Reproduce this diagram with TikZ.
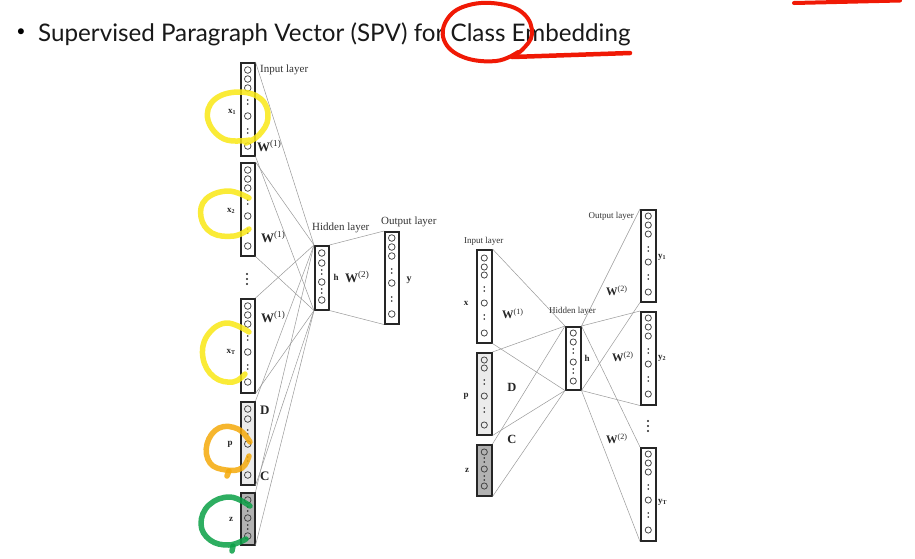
\documentclass[tikz,border=0pt]{standalone}
\usepackage{fontspec}
\setmainfont{Liberation Serif}
\newfontfamily\titlefont{Lato}
\definecolor{hlyellow}{RGB}{250,232,20}
\definecolor{hlorange}{RGB}{245,170,10}
\definecolor{hlgreen}{RGB}{10,160,70}
\definecolor{hlred}{RGB}{240,25,5}
\tikzset{
  col/.style={draw=black!85, line width=1.5pt, minimum width=14pt, inner sep=0pt, anchor=north west, fill=white},
  colR/.style={col, minimum width=15pt},
  neu/.style={draw=black!75, line width=0.75pt},
  wire/.style={draw=black!40, line width=0.5pt},
  lblL/.style={inner sep=0pt, font=\fontsize{11}{13}\selectfont, text=black!80},
  lblR/.style={inner sep=0pt, font=\fontsize{9}{11}\selectfont, text=black!80},
  varL/.style={inner sep=0pt, font=\fontsize{9}{11}\selectfont\bfseries, text=black!85},
  wL/.style={inner sep=0pt, font=\fontsize{13}{15}\selectfont, text=black!85, anchor=west},
  wR/.style={inner sep=0pt, font=\fontsize{11.5}{13}\selectfont, text=black!85, anchor=west},
  hl/.style={line width=5.5pt, line cap=round, line join=round, opacity=0.85},
}
\newcommand\colfill[4]{%
  \foreach \c in {#2} \draw[neu] ([yshift={-\c*1pt}]#1.north) circle (#4);
  \foreach \d in {#3} \fill[black!85] ([yshift={(2-\d)*1pt}]#1.north) circle (0.95pt) ([yshift={(-2-\d)*1pt}]#1.north) circle (0.95pt);
}
\begin{document}
\begin{tikzpicture}[x=1pt,y=-1pt]
\useasboundingbox (0,0) rectangle (915,558);
\fill[white] (0,0) rectangle (915,558);

% title
\node[inner sep=0pt, font=\titlefont\fontsize{16}{18}\selectfont] (bullet) at (21,33) {•};
\node[anchor=base west, inner sep=0pt, font=\titlefont\fontsize{24.2}{29}\selectfont, text=black!90] (title) at (38,41) {Supervised Paragraph Vector (SPV) for Class Embedding};

% ---------- left network ----------
\node[col, minimum height=93pt] (x1) at (240,62) {};
\node[col, minimum height=93pt] (x2) at (240,162) {};
\node[col, minimum height=94pt] (xT) at (240,298) {};
\node[col, fill=black!8, minimum height=83pt] (D) at (240,401) {};
\node[col, fill=black!30, minimum height=52pt] (zL) at (240,492) {};
\node[col, minimum height=64pt] (hL) at (314,245) {};
\node[col, minimum height=92pt] (yL) at (384,231) {};

\foreach \n in {x1,x2,xT,D,zL}{
  \draw[wire] (\n.north east) -- (hL.north west);
  \draw[wire] (\n.south east) -- (hL.south west);
}
\draw[wire] (hL.north east) -- (yL.north west);
\draw[wire] (hL.south east) -- (yL.south west);

\colfill{x1}{8,17,26,54,84}{40,69}{3.3pt}
\colfill{x2}{8,17,26,54,84}{40,69}{3.3pt}
\colfill{xT}{8,17,26,54,84}{40,69}{3.3pt}
\colfill{D}{8,18,43,74}{31,58}{3.3pt}
\colfill{zL}{8,26,44}{17,35}{3.3pt}
\colfill{hL}{8,18,37,55}{27,46}{3.3pt}
\colfill{yL}{7,16,25,52,83}{40,68}{3.3pt}

\node[lblL, anchor=west] (inL) at (260,70) {Input layer};
\node[varL] (lx1) at (232,112) {x\textsubscript{1}};
\node[wL] (w1a) at (257,146) {\textbf{W}\textsuperscript{(1)}};
\node[varL] (lx2) at (231,211) {x\textsubscript{2}};
\node[wL] (w1b) at (261,237) {\textbf{W}\textsuperscript{(1)}};
\fill[black!85] (247,274) circle (1.1pt) (247,279) circle (1.1pt) (247,284) circle (1.1pt);
\node[wL] (w1c) at (261,317) {\textbf{W}\textsuperscript{(1)}};
\node[varL] (lxT) at (231,352) {x\textsubscript{T}};
\node[wL, font=\fontsize{13}{15}\selectfont\bfseries] (lD) at (260,410) {D};
\node[varL] (lp) at (230,444) {p};
\node[wL, font=\fontsize{13}{15}\selectfont\bfseries] (lC) at (260,476) {C};
\node[varL] (lz) at (231,519) {z};
\node[lblL, anchor=west] (hidL) at (312,228) {Hidden layer};
\node[varL] (lh) at (336,277) {h};
\node[wL] (w2L) at (345,277) {\textbf{W}\textsuperscript{(2)}};
\node[lblL, anchor=west] (outL) at (381,222) {Output layer};
\node[varL, font=\fontsize{10}{12}\selectfont\bfseries] (ly) at (409,280) {y};

% ---------- right network ----------
\node[colR, minimum height=93pt] (xR) at (476,249) {};
\node[colR, fill=black!8, minimum height=82pt] (pR) at (476,352) {};
\node[colR, fill=black!30, minimum height=51pt] (zR) at (476,444) {};
\node[colR, minimum height=63pt] (hR) at (565,326) {};
\node[colR, minimum height=92pt] (y1) at (640,209) {};
\node[colR, minimum height=93pt] (y2) at (640,311) {};
\node[colR, minimum height=93pt] (yT) at (640,447) {};

\foreach \n in {xR,pR,zR}{
  \draw[wire] (\n.north east) -- (hR.north west);
  \draw[wire] (\n.south east) -- (hR.south west);
}
\foreach \n in {y1,y2,yT}{
  \draw[wire] (hR.north east) -- (\n.north west);
  \draw[wire] (hR.south east) -- (\n.south west);
}

\colfill{xR}{9,18,26,54,84}{40,68}{3.1pt}
\colfill{pR}{8,16,44,73}{30,58}{3.1pt}
\colfill{zR}{8,25,42}{16,34}{3.1pt}
\colfill{hR}{7,16,36,55}{25,45}{3.1pt}
\colfill{y1}{7,16,25,53,83}{40,68}{3.1pt}
\colfill{y2}{7,16,25,53,83}{40,68}{3.1pt}
\colfill{yT}{7,16,25,53,83}{40,68}{3.1pt}

\node[lblR, anchor=west] (inR) at (464,241) {Input layer};
\node[varL] (lxR) at (466,303) {x};
\node[wR] (w1R) at (502,314) {\textbf{W}\textsuperscript{(1)}};
\node[varL] (lpR) at (466,396) {p};
\node[wR, anchor=center, font=\fontsize{12.5}{14}\selectfont\bfseries] (lDR) at (512,387) {D};
\node[wR, anchor=center, font=\fontsize{12.5}{14}\selectfont\bfseries] (lCR) at (512,439) {C};
\node[varL] (lzR) at (467,470) {z};
\node[lblR, anchor=west] (hidR) at (549,311) {Hidden layer};
\node[varL] (lhR) at (587,358) {h};
\node[lblR, anchor=east] (outR) at (634,216) {Output layer};
\node[varL, anchor=west] (ly1) at (658,257) {y\textsubscript{1}};
\node[wR] (w2a) at (606,291) {\textbf{W}\textsuperscript{(2)}};
\node[varL, anchor=west] (ly2) at (658,358) {y\textsubscript{2}};
\node[wR] (w2b) at (612,357) {\textbf{W}\textsuperscript{(2)}};
\fill[black!85] (648,421) circle (1.1pt) (648,426) circle (1.1pt) (648,431) circle (1.1pt);
\node[wR] (w2c) at (606,439) {\textbf{W}\textsuperscript{(2)}};
\node[varL, anchor=west] (lyT) at (658,502) {y\textsubscript{T}};

% ---------- hand annotations ----------
\draw[hl, hlyellow] plot[smooth, tension=0.7] coordinates {(250,140) (224,139) (208,120) (214,100) (238,92) (261,99) (268,118) (259,135) (246,143)};
\draw[hl, hlyellow] plot[smooth, tension=0.7] coordinates {(249,198) (228,191) (206,199) (201,217) (212,233) (234,236) (249,229)};
\draw[hl, hlyellow] plot[smooth, tension=0.7] coordinates {(249,332) (226,323) (207,336) (203,358) (214,377) (233,382) (245,374)};
\draw[hl, hlorange] plot[smooth, tension=0.7] coordinates {(250,442) (238,429) (219,428) (207,444) (210,463) (226,470) (242,468) (249,456)};
\draw[hl, hlorange] (229,471) -- (227,476);
\draw[hl, hlgreen] plot[smooth, tension=0.7] coordinates {(250,506) (230,497) (209,505) (201,524) (210,540) (229,545) (246,539)};
\draw[hl, hlgreen] (233,546) -- (232,551);
\draw[hl, hlred, line width=4pt, opacity=1] plot[smooth, tension=0.7] coordinates {(518,52) (496,61) (463,57) (444,40) (448,18) (469,5) (500,4) (524,14) (532,34) (522,50) (512,56)};
\draw[hl, hlred, line width=4.5pt, opacity=1] (512,57) -- (630,53);
\draw[hl, hlred, line width=4pt, opacity=1] (794,3) -- (900,0.5);
\end{tikzpicture}
\end{document}
